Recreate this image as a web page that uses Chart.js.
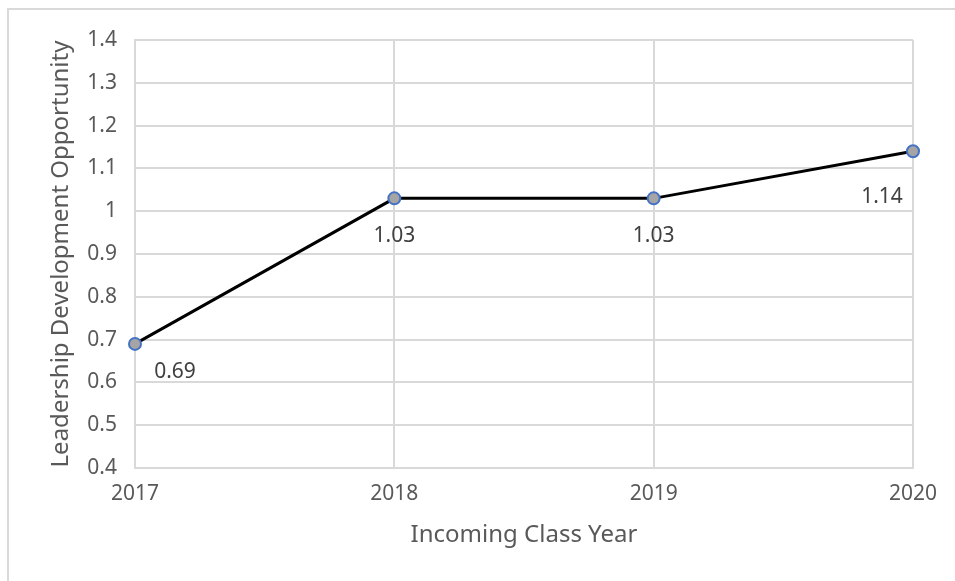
<!DOCTYPE html>
<html>
<head>
<meta charset="utf-8">
<script src="https://cdn.jsdelivr.net/npm/chart.js@4.4.1/dist/chart.umd.min.js"></script>
<style>
  html, body { margin: 0; padding: 0; background: #fff; }
  #wrap { position: relative; width: 955px; height: 581px; }
  #frame { position: absolute; left: 7px; top: 8px; right: -10px; bottom: -10px;
           border-left: 2px solid #d9d9d9; border-top: 2px solid #d9d9d9; }
  canvas { position: absolute; left: 0; top: 0; }
</style>
</head>
<body>
<div id="wrap">
  <div id="frame"></div>
  <canvas id="chart" width="955" height="581"></canvas>
</div>
<script>
const years = ["2017", "2018", "2019", "2020"];
const scores = [0.69, 1.03, 1.03, 1.14];
const yTicks = [0.4, 0.5, 0.6, 0.7, 0.8, 0.9, 1, 1.1, 1.2, 1.3, 1.4];

// where each value label sits relative to its point (dx, dy)
const labelOffsets = [[40, 28], [0, 38], [0, 38], [-31, 46]];

const valueLabels = {
  id: "valueLabels",
  afterDatasetsDraw(chart) {
    const ctx = chart.ctx;
    const meta = chart.getDatasetMeta(0);
    ctx.save();
    ctx.font = "21px 'Noto Sans'";
    ctx.fillStyle = "#404040";
    ctx.textAlign = "center";
    ctx.textBaseline = "middle";
    meta.data.forEach((pt, i) => {
      const [dx, dy] = labelOffsets[i];
      ctx.fillText(scores[i].toFixed(2), pt.x + dx, pt.y + dy);
    });
    ctx.restore();
  }
};

const ctx = document.getElementById("chart");
new Chart(ctx, {
  type: "line",
  data: {
    labels: years,
    datasets: [{
      data: scores,
      borderColor: "#000",
      borderWidth: 3,
      pointRadius: 6,
      pointBorderWidth: 2,
      pointBackgroundColor: "#a5a5a5",
      pointBorderColor: "#4472c4",
      tension: 0
    }]
  },
  options: {
    responsive: false,
    animation: false,
    layout: { padding: { left: 0, top: 40, right: 42, bottom: 0 } },
    plugins: { legend: { display: false }, tooltip: { enabled: false } },
    scales: {
      x: {
        offset: false,
        grid: { color: "#d9d9d9", lineWidth: 2, drawTicks: false },
        border: { color: "#d9d9d9", width: 2 },
        ticks: { color: "#595959", font: { family: "Noto Sans", size: 21 }, padding: 13, maxRotation: 0 },
        title: { display: true, text: "Incoming Class Year", color: "#595959",
                 font: { family: "Noto Sans", size: 24 }, padding: { bottom: 31 } },
        afterFit: (s) => { s.height = 113; }
      },
      y: {
        min: 0.4,
        max: 1.4,
        afterBuildTicks: (s) => { s.ticks = yTicks.map((v) => ({ value: v })); },
        grid: { color: "#d9d9d9", lineWidth: 2, drawTicks: false },
        border: { color: "#d9d9d9", width: 2 },
        ticks: { color: "#595959", font: { family: "Noto Sans", size: 21 }, padding: 18,
                 callback: (v) => String(Number(v.toFixed(1))) },
        title: { display: true, text: "Leadership Development Opportunity", color: "#595959",
                 font: { family: "Noto Sans", size: 24 }, padding: { top: 47 } },
        afterFit: (s) => { s.width = 135; }
      }
    }
  },
  plugins: [valueLabels]
});
</script>
</body>
</html>
